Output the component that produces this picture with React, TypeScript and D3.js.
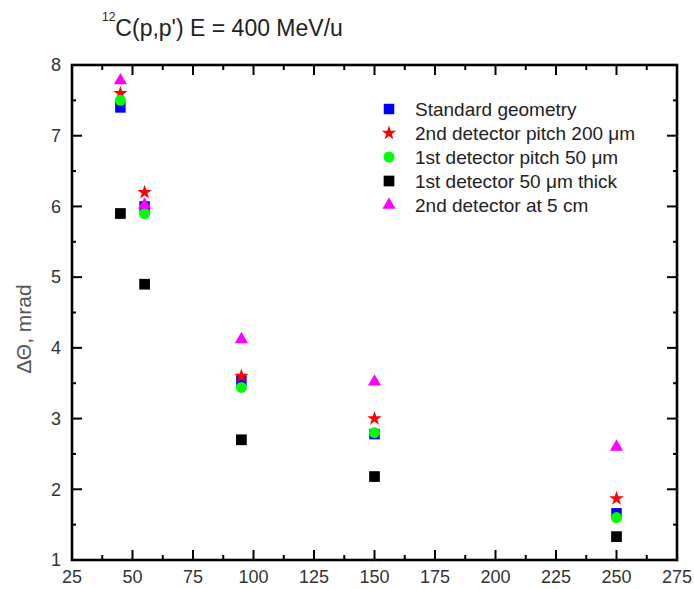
import React, { useEffect, useRef } from "react";
import * as d3 from "d3";

// beam energies (x) and angular resolution per setup (y, mrad)
const energies = [45, 55, 95, 150, 250];
const standardGeom = [7.4, 6.0, 3.54, 2.78, 1.66];
const pitch200 = [7.6, 6.2, 3.6, 3.0, 1.87];
const pitch50 = [7.5, 5.9, 3.44, 2.8, 1.6];
const thick50 = [5.9, 4.9, 2.7, 2.18, 1.33];
const at5cm = [7.78, 6.02, 4.12, 3.52, 2.6];

const xTicks = [25, 50, 75, 100, 125, 150, 175, 200, 225, 250, 275];
const yTicks = [1, 2, 3, 4, 5, 6, 7, 8];

const series = [
  { name: "Standard geometry", values: standardGeom, color: "#0000ff", symbol: d3.symbolSquare, size: 110 },
  { name: "2nd detector pitch 200 \u03bcm", values: pitch200, color: "#ff0000", symbol: d3.symbolStar, size: 65 },
  { name: "1st detector pitch 50 \u03bcm", values: pitch50, color: "#00ff00", symbol: d3.symbolCircle, size: 95 },
  { name: "1st detector 50 \u03bcm thick", values: thick50, color: "#000000", symbol: d3.symbolSquare, size: 115 },
  { name: "2nd detector at 5 cm", values: at5cm, color: "#ff00ff", symbol: d3.symbolTriangle, size: 75 },
];

export default function App() {
  const ref = useRef<SVGSVGElement>(null);

  useEffect(() => {
    const width = 694, height = 589;
    const m = { left: 72, right: 17, top: 65, bottom: 29 };
    const font = "'Liberation Sans', Arial, sans-serif";

    const svg = d3.select(ref.current);
    svg.selectAll("*").remove();

    const x = d3.scaleLinear().domain([25, 275]).range([m.left, width - m.right]);
    const y = d3.scaleLinear().domain([1, 8]).range([height - m.bottom, m.top]);

    const g = svg.append("g");

    // ticks: major inward, minor halfway, mirrored on all four sides
    const minorX = d3.range(37.5, 275, 25);
    const minorY = d3.range(1.5, 8, 1);
    const tickColor = "#000";

    const addX = (vals: number[], len: number) => {
      vals.forEach((v) => {
        g.append("line").attr("x1", x(v)).attr("x2", x(v))
          .attr("y1", y(1)).attr("y2", y(1) - len)
          .attr("stroke", tickColor).attr("stroke-width", 2);
        g.append("line").attr("x1", x(v)).attr("x2", x(v))
          .attr("y1", y(8)).attr("y2", y(8) + len)
          .attr("stroke", tickColor).attr("stroke-width", 2);
      });
    };
    const addY = (vals: number[], len: number) => {
      vals.forEach((v) => {
        g.append("line").attr("x1", x(25)).attr("x2", x(25) + len)
          .attr("y1", y(v)).attr("y2", y(v))
          .attr("stroke", tickColor).attr("stroke-width", 2);
        g.append("line").attr("x1", x(275)).attr("x2", x(275) - len)
          .attr("y1", y(v)).attr("y2", y(v))
          .attr("stroke", tickColor).attr("stroke-width", 2);
      });
    };
    addX(xTicks.slice(1, -1), 10);
    addX(minorX, 5);
    addY(yTicks.slice(1, -1), 10);
    addY(minorY, 4);

    g.append("rect")
      .attr("x", x(25)).attr("y", y(8))
      .attr("width", x(275) - x(25)).attr("height", y(1) - y(8))
      .attr("fill", "none").attr("stroke", "#000").attr("stroke-width", 2.6);

    // tick labels
    g.selectAll(".xl").data(xTicks).enter().append("text")
      .attr("x", (d) => x(d)).attr("y", height - 6)
      .attr("text-anchor", "middle")
      .style("font-family", font).style("font-size", "18px").attr("fill", "#333")
      .text((d) => d);
    g.selectAll(".yl").data(yTicks).enter().append("text")
      .attr("x", m.left - 11).attr("y", (d) => y(d))
      .attr("dy", "0.35em").attr("text-anchor", "end")
      .style("font-family", font).style("font-size", "18px").attr("fill", "#333")
      .text((d) => d);

    // axis title
    g.append("text")
      .attr("transform", "translate(31," + 329 + ") rotate(-90)")
      .attr("text-anchor", "middle")
      .style("font-family", font).style("font-size", "21px").attr("fill", "#555")
      .text("\u0394\u0398, mrad");

    // chart title
    const title = g.append("text")
      .attr("x", 102).attr("y", 36)
      .style("font-family", font).attr("fill", "#222");
    title.append("tspan").attr("dy", -15).style("font-size", "12px").text("12");
    title.append("tspan").attr("dy", 15).style("font-size", "23px").text("C(p,p') E = 400 MeV/u");

    // points
    series.forEach((s) => {
      const sym = d3.symbol().type(s.symbol).size(s.size);
      g.selectAll(null).data(s.values).enter().append("path")
        .attr("d", sym)
        .attr("transform", (d, i) => "translate(" + x(energies[i]) + "," + y(d) + ")")
        .attr("fill", s.color);
    });

    // legend
    const leg = g.append("g").attr("transform", "translate(389,109)");
    series.forEach((s, i) => {
      leg.append("path")
        .attr("d", d3.symbol().type(s.symbol).size(s.size)())
        .attr("transform", "translate(0," + i * 24 + ")")
        .attr("fill", s.color);
      leg.append("text")
        .attr("x", 26).attr("y", i * 24).attr("dy", "0.35em")
        .style("font-family", font).style("font-size", "19px").attr("fill", "#222")
        .text(s.name);
    });
  }, []);

  return (
    <svg ref={ref} width={694} height={589}
      style={{ position: "absolute", left: 0, top: 0, background: "#fff" }} />
  );
}
